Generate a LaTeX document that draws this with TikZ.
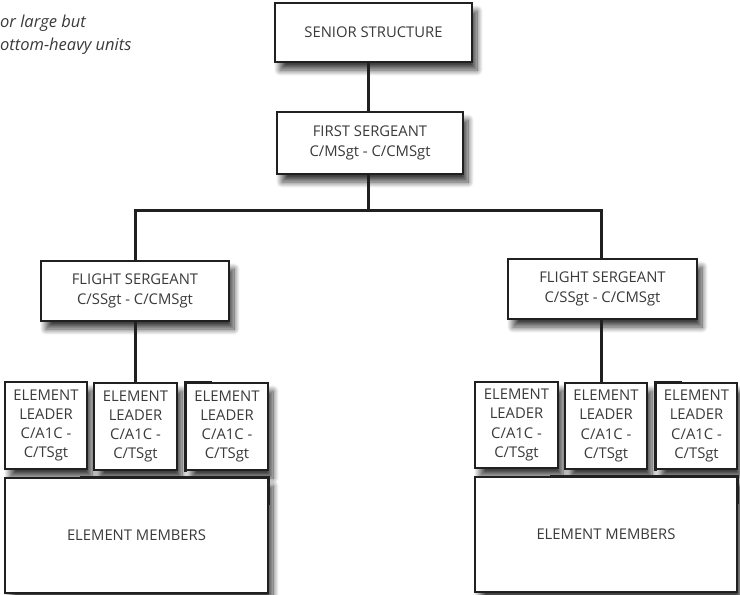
\documentclass[tikz,border=0pt]{standalone}
\usepackage{fontspec}
\setmainfont{Open Sans}
\usetikzlibrary{shadows.blur}
\definecolor{txt}{HTML}{3A3A3A}
\definecolor{ln}{HTML}{202020}
\tikzset{
  box/.style={draw=ln, line width=1.1pt, fill=white, align=center, text=txt,
    font=\fontsize{14.8}{19.3}\selectfont, inner sep=0pt,
    blur shadow={shadow xshift=5pt, shadow yshift=-8pt, shadow blur steps=12, shadow opacity=75, shadow blur radius=6pt}},
  conn/.style={draw=ln, line width=3pt},
  edge/.style={draw=ln, line width=2.2pt},
  note/.style={anchor=base west, inner sep=0pt, text=txt, font=\fontsize{16.5}{20}\selectfont\itshape}
}
\begin{document}
\begin{tikzpicture}[x=1pt,y=-1pt]
\useasboundingbox (0,0) rectangle (740,595);
\node[note] (n1) at (0,27) {or large but};
\node[note] (n2) at (0,50) {ottom-heavy units};

\node[box, minimum width=197pt, minimum height=59pt] (senior) at (373.5,32.5) {SENIOR STRUCTURE};
\node[box, minimum width=186pt, minimum height=62pt] (first) at (370,143) {FIRST SERGEANT\\C/MSgt - C/CMSgt};
\node[box, minimum width=188pt, minimum height=60pt] (fsl) at (135,291) {FLIGHT SERGEANT\\C/SSgt - C/CMSgt};
\node[box, minimum width=189pt, minimum height=60pt] (fsr) at (602.5,289) {FLIGHT SERGEANT\\C/SSgt - C/CMSgt};

\node[box, minimum width=82pt, minimum height=87pt] (ell1) at (46,425.5) {ELEMENT\\LEADER\\C/A1C -\\C/TSgt};
\node[box, minimum width=83pt, minimum height=87pt] (ell2) at (135.5,426.5) {ELEMENT\\LEADER\\C/A1C -\\C/TSgt};
\node[box, minimum width=82pt, minimum height=87pt] (ell3) at (227,426.5) {ELEMENT\\LEADER\\C/A1C -\\C/TSgt};
\node[box, minimum width=263pt, minimum height=115pt] (eml) at (136.5,535.5) {ELEMENT MEMBERS};

\node[box, minimum width=83pt, minimum height=86pt] (elr1) at (516.5,425) {ELEMENT\\LEADER\\C/A1C -\\C/TSgt};
\node[box, minimum width=82pt, minimum height=86pt] (elr2) at (606,426) {ELEMENT\\LEADER\\C/A1C -\\C/TSgt};
\node[box, minimum width=81pt, minimum height=86pt] (elr3) at (696.5,426) {ELEMENT\\LEADER\\C/A1C -\\C/TSgt};
\node[box, minimum width=262pt, minimum height=115pt] (emr) at (606,534.5) {ELEMENT MEMBERS};

% connectors
\draw[conn] ([xshift=-5.5pt]senior.south) -- ([xshift=-5.5pt]senior.south |- first.north);
\draw[conn] ([xshift=-2pt]first.south) -- ++(0,36) coordinate (j);
\draw[conn] (fsl.north) |- (j) -| ([xshift=-1.5pt]fsr.north);
\draw[conn] (fsl.south) -- (fsl.south |- ell2.north);
\draw[conn] ([xshift=-1.5pt]fsr.south) -- ([xshift=-1.5pt]fsr.south |- elr2.north);

% heavier edge segments
\draw[edge] ([xshift=27pt]ell3.north west) -- (ell3.north west) -- ([yshift=-1pt]ell3.south west);
\draw[edge] ([xshift=76pt]eml.north west) -- (eml.north east) -- ([yshift=-28pt]eml.north east);
\draw[edge] ([xshift=27pt]elr3.north west) -- (elr3.north west) -- ([yshift=-1pt]elr3.south west);
\draw[edge] ([xshift=76pt]emr.north west) -- (emr.north east) -- ([yshift=-28pt]emr.north east);
\end{tikzpicture}
\end{document}
